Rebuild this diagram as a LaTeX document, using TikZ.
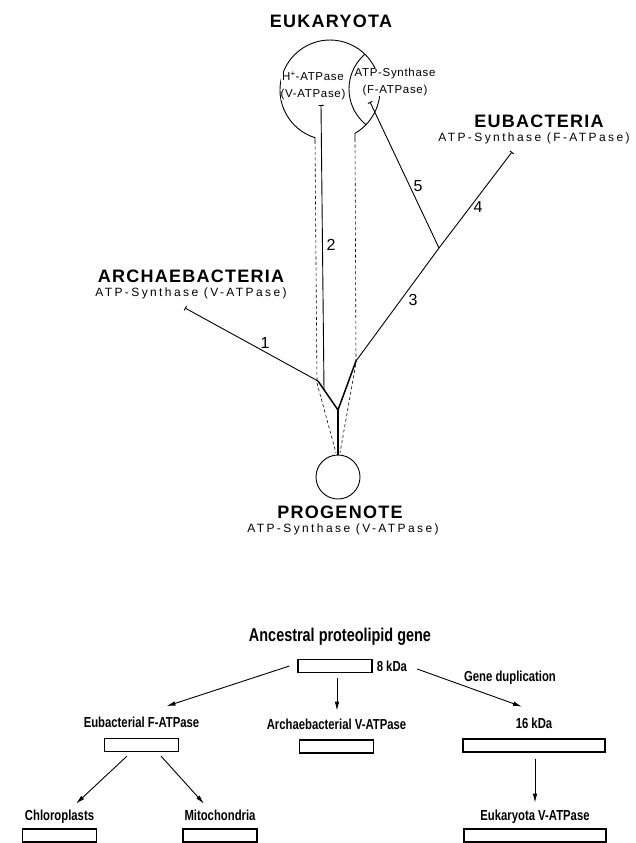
\documentclass[tikz,border=0pt]{standalone}
\usepackage{fontspec}
\setmainfont{Liberation Sans}
\newfontfamily\headfont[LetterSpace=7]{Liberation Sans Bold}
\newfontfamily\spacedfont[LetterSpace=20]{Liberation Sans}
\newfontfamily\innerfont[LetterSpace=6]{Liberation Sans}
\newfontfamily\condfont[FakeStretch=0.78]{Liberation Sans Bold}
\usetikzlibrary{positioning,arrows.meta}

\begin{document}
\begin{tikzpicture}[x=1pt, y=-1pt,
    every node/.style={inner sep=0pt, align=center},
    head/.style={font=\headfont\fontsize{18}{20}\selectfont},
    sub/.style={font=\spacedfont\fontsize{12}{14}\selectfont},
    enz/.style={font=\innerfont\fontsize{11.5}{17}\selectfont, fill=white},
    num/.style={font=\fontsize{16}{18}\selectfont},
    branch/.style={line width=0.9pt, -{Bar[width=5pt]}},
    stem/.style={line width=1.5pt},
    guide/.style={dash pattern=on 3pt off 2.5pt, line width=0.6pt},
    gene/.style={draw, line width=1.2pt, minimum width=74pt, minimum height=13pt},
    gene2/.style={gene, minimum width=142pt},
    lbl/.style={font=\condfont\fontsize{14.5}{16}\selectfont},
    ttl/.style={font=\condfont\fontsize{18.5}{20}\selectfont},
    arr/.style={-{Latex[length=9pt,width=4.5pt]}, line width=0.9pt}
  ]
  \fill[white] (0,0) rectangle (636,843);

  % tree
  \coordinate (fork) at (338,410);
  \coordinate (kl) at (318,381);
  \coordinate (kr) at (356,361);
  \coordinate (b2) at (324,390);
  \coordinate (nd) at (439,248);
  \coordinate (tipA) at (185,308);
  \coordinate (tipE) at (512,152);
  \coordinate (tipF) at (370,102);
  \coordinate (tipV) at (321,105);
  \node[circle, draw, line width=0.9pt, minimum size=44pt] (prog) at (338,477) {};

  % eukaryotic cell
  \coordinate (cell) at (330,90);
  \coordinate (neckl) at (315,141);
  \coordinate (neckr) at (355,139);
  \draw[line width=0.9pt] (neckl) -- (314.96,137.7)
    arc[start angle=107.5, end angle=420, radius=50] -- (neckr);
  \begin{scope}
    \clip (cell) circle[radius=50];
    \draw[line width=0.9pt] (395,89) circle[radius=46];
  \end{scope}
  \draw[guide] (neckl) -- (317,383) -- (336,453);
  \draw[guide] (neckr) -- (356,363) -- (340,453);

  \draw[line width=1.2pt] (prog.north) -- (fork);
  \draw[stem] (kl) -- (fork) -- (kr);
  \draw[branch] (kl) -- (tipA);
  \draw[branch] (b2) -- (tipV);
  \draw[line width=0.9pt] (kr) -- (nd);
  \draw[branch] (nd) -- (tipE);
  \draw[branch] (nd) -- (tipF);

  \node[num] (n1) at (265,343) {1};
  \node[num] (n2) at (331,245) {2};
  \node[num] (n3) at (413,300) {3};
  \node[num] (n4) at (478,207) {4};
  \node[num] (n5) at (418,186) {5};

  \node[head] (euk) at (331,21) {EUKARYOTA};
  \node[enz] (vE) at (313,86) {H\textsuperscript{+}-ATPase\\(V-ATPase)};
  \node[enz] (fE) at (395,82) {ATP-Synthase\\(F-ATPase)};
  \node[head] (arch) at (191,276) {ARCHAEBACTERIA};
  \node[sub, below=5pt of arch] (archE) {ATP-Synthase (V-ATPase)};
  \node[head] (eub) at (539,121) {EUBACTERIA};
  \node[sub, below=5pt of eub, xshift=-5pt] (eubE) {ATP-Synthase (F-ATPase)};
  \node[head] (pro) at (340,512) {PROGENOTE};
  \node[sub, below=5pt of pro, xshift=3pt] (proE) {ATP-Synthase (V-ATPase)};

  % proteolipid genes
  \node[ttl] (anc) at (340,637) {Ancestral proteolipid gene};
  \node[gene] (g8) at (335,666) {};
  \node[lbl, right=4pt of g8] (k8) {8 kDa};
  \node[gene] (eubB) at (141.5,745) {};
  \node[gene] (archB) at (336.5,746.5) {};
  \node[gene2] (b16) at (534,745.5) {};
  \node[gene] (chlB) at (59.5,835.5) {};
  \node[gene] (mitB) at (220,835.5) {};
  \node[gene2] (eukB) at (535,835.5) {};
  \node[lbl, above=10pt of eubB, anchor=base] (eubL) {Eubacterial F-ATPase};
  \node[lbl, above=10pt of archB, anchor=base] (archL) {Archaebacterial V-ATPase};
  \node[lbl, above=10pt of b16, anchor=base] (k16) {16 kDa};
  \node[lbl, above=8pt of chlB, anchor=base] (chlL) {Chloroplasts};
  \node[lbl, above=8pt of mitB, anchor=base] (mitL) {Mitochondria};
  \node[lbl, above=8pt of eukB, anchor=base] (eukL) {Eukaryota V-ATPase};
  \node[lbl] (dup) at (510,678) {Gene duplication};

  \draw[arr] ([shift={(-8,0)}]g8.west) -- ([shift={(25,-11)}]eubL.north);
  \draw[arr] ([shift={(2,5)}]g8.south) -- ([shift={(0.5,-8)}]archL.north);
  \draw[arr] ([shift={(10,3)}]k8.east) -- ([shift={(-12,-11)}]k16.north);
  \draw[arr] ([shift={(1,6)}]b16.south) -- ([shift={(0,-7)}]eukL.north);
  \draw[arr] ([shift={(-14.5,4)}]eubB.south) -- ([shift={(16.5,-6)}]chlL.north);
  \draw[arr] ([shift={(19.5,4)}]eubB.south) -- ([shift={(-16,-6)}]mitL.north);
\end{tikzpicture}
\end{document}
